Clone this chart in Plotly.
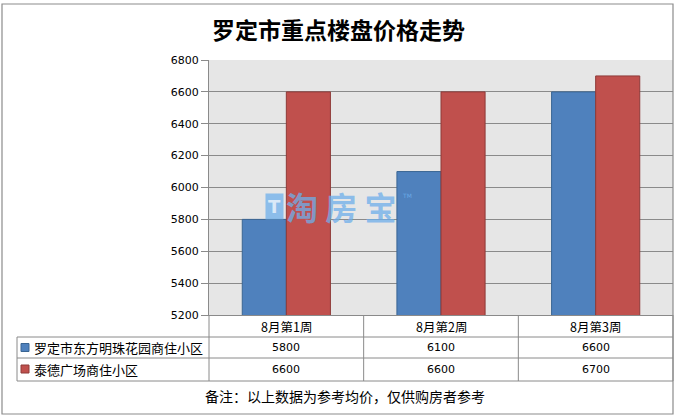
import plotly.graph_objects as go

categories = ["8月第1周", "8月第2周", "8月第3周"]
series_names = ["罗定市东方明珠花园商住小区", "泰德广场商住小区"]
values_a = [5800, 6100, 6600]
values_b = [6600, 6600, 6700]
y_ticks = [5200, 5400, 5600, 5800, 6000, 6200, 6400, 6600, 6800]
title_text = "罗定市重点楼盘价格走势"
note_text = "备注：以上数据为参考均价，仅供购房者参考"

BLUE = "#4f81bd"
RED = "#c0504d"
GRID = "#8a8a8a"
CJK = "Noto Sans CJK SC"
NUM = "DejaVu Sans"

fig = go.Figure()
fig.add_trace(go.Bar(x=list(range(3)), y=values_a, name=series_names[0], base=0,
                     marker=dict(color=BLUE, line=dict(color="#3a6593", width=1))))
fig.add_trace(go.Bar(x=list(range(3)), y=values_b, name=series_names[1], base=0,
                     marker=dict(color=RED, line=dict(color="#8e3a38", width=1))))

W, H = 678, 417
L, R, T, B = 209, 5, 60, 102
pw, ph = W - L - R, H - T - B

def px_x(x):
    return (x - L) / pw

def px_y(y):
    return (H - B - y) / ph

shapes = []
line = dict(color=GRID, width=1)
# outer chart frame
shapes.append(dict(type="rect", xref="paper", yref="paper",
                   x0=px_x(2), x1=px_x(673), y0=px_y(414), y1=px_y(4),
                   line=dict(color="#8c8c8c", width=1.2), layer="below"))
# data table horizontal lines
for yy, x0 in [(337, 17), (358, 17), (381, 17)]:
    shapes.append(dict(type="line", xref="paper", yref="paper",
                       x0=px_x(x0), x1=1, y0=px_y(yy), y1=px_y(yy), line=line))
# data table vertical lines
shapes.append(dict(type="line", xref="paper", yref="paper", x0=px_x(17), x1=px_x(17),
                   y0=px_y(337), y1=px_y(381), line=line))
shapes.append(dict(type="line", xref="paper", yref="paper", x0=0, x1=0,
                   y0=0, y1=px_y(381), line=line))
shapes.append(dict(type="line", xref="paper", yref="paper", x0=1, x1=1,
                   y0=0, y1=px_y(381), line=line))
for xb in [0.5, 1.5]:
    shapes.append(dict(type="line", xref="x", yref="paper", x0=xb, x1=xb,
                       y0=0, y1=px_y(381), line=line))
# legend keys
for yy, col, lc in [(347.5, BLUE, "#3a6593"), (369, RED, "#8e3a38")]:
    shapes.append(dict(type="rect", xref="paper", yref="paper",
                       x0=px_x(21), x1=px_x(29), y0=px_y(yy + 4), y1=px_y(yy - 4),
                       fillcolor=col, line=dict(color=lc, width=1)))

ann = []
ann.append(dict(text="<b>" + title_text + "</b>", xref="paper", yref="paper", x=px_x(338), y=px_y(29),
                showarrow=False, font=dict(family=CJK, size=23, color="#000000"),
                xanchor="center", yanchor="middle"))
for i, c in enumerate(categories):
    ann.append(dict(text=c, xref="x", yref="paper", x=i, y=px_y(326), showarrow=False,
                    font=dict(family=CJK, size=12.5, color="#000"), yanchor="middle"))
    ann.append(dict(text=str(values_a[i]), xref="x", yref="paper", x=i, y=px_y(347.5),
                    showarrow=False, font=dict(family=NUM, size=11, color="#000"), yanchor="middle"))
    ann.append(dict(text=str(values_b[i]), xref="x", yref="paper", x=i, y=px_y(369),
                    showarrow=False, font=dict(family=NUM, size=11, color="#000"), yanchor="middle"))
for name, yy in zip(series_names, [347.5, 369]):
    ann.append(dict(text=name, xref="paper", yref="paper", x=px_x(32), y=px_y(yy),
                    showarrow=False, xanchor="left", yanchor="middle",
                    font=dict(family=CJK, size=13, color="#000")))
ann.append(dict(text=note_text, xref="paper", yref="paper", x=px_x(345), y=px_y(396),
                showarrow=False, xanchor="center", yanchor="middle",
                font=dict(family=CJK, size=14, color="#000")))
# watermark
ann.append(dict(text="<b>淘 房 宝</b>", xref="paper", yref="paper", x=px_x(284), y=px_y(206),
                showarrow=False, xanchor="left", yanchor="middle",
                font=dict(family=CJK, size=32, color="rgba(110,175,235,0.75)")))
ann.append(dict(text="<b>T</b>", xref="paper", yref="paper", x=px_x(274), y=px_y(206),
                showarrow=False, xanchor="center", yanchor="middle",
                bgcolor="rgba(110,175,235,0.75)", borderpad=2,
                font=dict(family=NUM, size=18, color="rgba(230,240,250,0.9)")))
ann.append(dict(text="TM", xref="paper", yref="paper", x=px_x(407), y=px_y(195),
                showarrow=False, xanchor="center", yanchor="middle",
                font=dict(family=NUM, size=6, color="rgba(110,175,235,0.9)")))

fig.update_layout(
    width=W, height=H,
    margin=dict(l=L, r=R, t=T, b=B, pad=0),
    paper_bgcolor="#ffffff", plot_bgcolor="#e6e6e6",
    barmode="group", bargap=0.43, bargroupgap=0,
    showlegend=False,
    shapes=shapes, annotations=ann,
    xaxis=dict(range=[-0.5, 2.5], showticklabels=False, showgrid=False, zeroline=False,
               showline=True, linecolor=GRID, linewidth=1, ticks=""),
    yaxis=dict(range=[5200, 6800], tickvals=y_ticks, showgrid=True, gridcolor=GRID,
               gridwidth=1, zeroline=False, showline=True, linecolor=GRID, linewidth=1,
               ticks="outside", ticklen=7, tickcolor=GRID,
               tickfont=dict(family=NUM, size=11, color="#000")),
)
fig.write_html("out.html", config={"displayModeBar": False},
               post_script="document.body.style.margin='0';")
